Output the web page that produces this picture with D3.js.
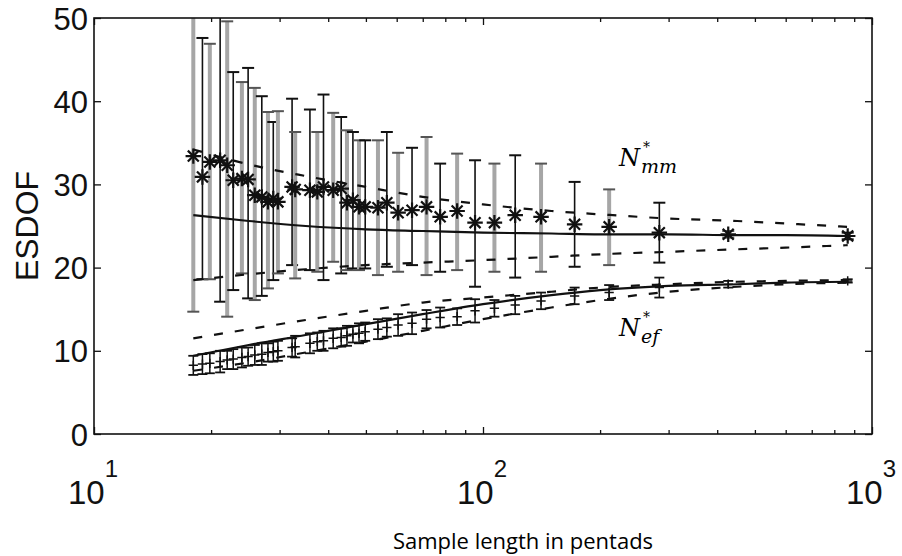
<!DOCTYPE html>
<html>
<head>
<meta charset="utf-8">
<script src="https://cdn.jsdelivr.net/npm/d3@7"></script>
<style>
  body { margin: 0; background: #fff; }
  .tick text { font-family: "Liberation Sans", Arial, sans-serif; }
</style>
</head>
<body>
<svg id="chart" width="902" height="556"></svg>
<script>
// sample lengths (pentads) of the sub-samples
const sampleLen = [18.0, 19.0, 19.85, 21.1, 22.0, 22.8, 24.0, 24.9, 25.9, 27.0,
  28.0, 28.9, 29.7, 32.3, 32.9, 35.9, 37.5, 38.9, 41.2, 43.2,
  44.7, 46.3, 48.0, 49.8, 53.7, 56.6, 60.5, 65.7, 71.6, 77.6,
  85.8, 95.4, 107, 121, 141, 172, 211, 284, 427, 866];

// N*mm : mean (asterisk) and error bar limits
const mmMean = [33.4, 30.9, 32.7, 32.9, 32.3, 30.5, 30.7, 30.6, 28.7, 28.5,
  27.9, 28.3, 27.9, 29.7, 29.4, 29.3, 29.1, 29.7, 29.3, 29.5,
  27.8, 28.1, 27.3, 27.3, 27.2, 27.8, 26.6, 26.9, 27.3, 26.1,
  26.8, 25.4, 25.4, 26.3, 26.1, 25.2, 24.9, 24.2, 24.0, 23.8];
const mmLo = [14.7, 18.6, 18.6, 15.9, 14.1, 17.3, 19.3, 16.3, 16.1, 16.6,
  17.5, 18.5, 19.3, 20.3, 18.7, 19.7, 19.5, 18.5, 20.7, 19.3,
  19.7, 19.9, 19.7, 19.9, 19.1, 20.1, 19.5, 20.3, 19.1, 19.5,
  19.7, 17.7, 19.5, 18.8, 19.5, 20.1, 20.3, 20.6, 23.6, 23.4];
const mmHi = [52, 47.6, 46.9, 52, 49.6, 43.5, 42.3, 44.0, 41.6, 40.6,
  38.7, 37.5, 38.8, 40.3, 36.3, 39.0, 36.3, 40.8, 38.6, 38.1,
  36.5, 36.3, 35.3, 35.3, 35.3, 36.3, 33.8, 34.4, 35.7, 32.5,
  33.7, 32.9, 32.5, 33.5, 32.5, 30.3, 29.4, 27.8, 24.4, 24.2];

// N*ef : mean and half-width of error bar
const efMean = [8.25, 8.4, 8.5, 8.7, 8.9, 9.0, 9.2, 9.3, 9.5, 9.6,
  9.8, 9.9, 10.0, 10.4, 10.5, 10.9, 11.1, 11.2, 11.5, 11.6,
  11.8, 12.0, 12.1, 12.3, 12.6, 12.8, 13.1, 13.3, 13.8, 14.0,
  14.1, 14.8, 15.1, 15.5, 16.0, 16.6, 17.0, 17.6, 18.0, 18.4];
const efErr = [1.15, 1.2, 1.2, 1.3, 1.1, 1.2, 1.2, 1.1, 1.2, 1.3,
  1.1, 1.2, 1.2, 1.1, 1.3, 1.2, 1.1, 1.2, 1.2, 1.1,
  1.2, 1.0, 1.2, 1.1, 1.2, 1.1, 1.3, 1.3, 1.1, 1.2,
  1.0, 1.4, 1.0, 1.1, 1.0, 1.0, 0.9, 1.2, 0.4, 0.2];

// theoretical curves (solid) and their bounds (dashed)
const theoryLen = [18, 25, 35, 50, 70, 100, 150, 200, 300, 450, 600, 866];
const mmTheory  = [26.3, 25.6, 25.0, 24.6, 24.4, 24.2, 24.1, 24.0, 24.0, 23.9, 23.9, 23.8];
const mmUpper   = [34.2, 32.4, 31.0, 29.7, 28.5, 27.6, 26.8, 26.4, 25.9, 25.6, 25.3, 24.9];
const mmLower   = [18.5, 19.2, 19.8, 20.3, 20.6, 20.9, 21.3, 21.6, 21.9, 22.2, 22.4, 22.7];
const efTheory  = [9.4, 10.7, 11.9, 13.2, 14.4, 15.6, 16.7, 17.3, 17.8, 18.0, 18.2, 18.3];
const efUpper   = [11.5, 12.6, 13.7, 14.8, 15.8, 16.4, 17.1, 17.6, 18.0, 18.3, 18.4, 18.5];
const efLower   = [7.6, 8.6, 9.8, 11.1, 12.4, 13.8, 15.2, 16.1, 17.1, 17.7, 18.0, 18.2];

const yTicks = [0, 10, 20, 30, 40, 50];
const xMajor = [10, 100, 1000];
const xMinor = [20, 30, 40, 50, 60, 70, 80, 90, 200, 300, 400, 500, 600, 700, 800, 900];

const W = 902, H = 556;
const M = { t: 18, r: 30, b: 122, l: 94 };
const w = W - M.l - M.r, h = H - M.t - M.b;

const svg = d3.select("#chart");
const g = svg.append("g").attr("transform", `translate(${M.l},${M.t})`);

const x = d3.scaleLog().domain([10, 1000]).range([0, w]);
const y = d3.scaleLinear().domain([0, 50]).range([h, 0]);

svg.append("defs").append("clipPath").attr("id", "plotclip")
  .append("rect").attr("width", w).attr("height", h);

const plot = g.append("g").attr("clip-path", "url(#plotclip)");

// ---- N*mm error bars (grey thick / black thin alternating)
const mm = sampleLen.map((n, i) => ({ n, m: mmMean[i], lo: mmLo[i], hi: mmHi[i], grey: i % 2 === 0 }));
const ef = sampleLen.map((n, i) => ({ n, m: efMean[i], e: efErr[i] }));

const bars = plot.append("g");
mm.forEach(d => {
  const cx = x(d.n);
  const col = d.grey ? "#a6a6a6" : "#111";
  const sw = d.grey ? 4 : 1.6;
  bars.append("line")
    .attr("x1", cx).attr("x2", cx)
    .attr("y1", y(d.lo)).attr("y2", y(d.hi))
    .attr("stroke", col).attr("stroke-width", sw);
  [d.lo, d.hi].forEach(v => {
    bars.append("line")
      .attr("x1", cx - 6).attr("x2", cx + 6)
      .attr("y1", y(v)).attr("y2", y(v))
      .attr("stroke", d.grey ? "#555" : "#111").attr("stroke-width", 2);
  });
});

// ---- N*ef error bars
ef.forEach(d => {
  const cx = x(d.n);
  bars.append("line")
    .attr("x1", cx).attr("x2", cx)
    .attr("y1", y(d.m - d.e)).attr("y2", y(d.m + d.e))
    .attr("stroke", "#111").attr("stroke-width", 1.5);
  [d.m - d.e, d.m + d.e].forEach(v => {
    bars.append("line")
      .attr("x1", cx - 5).attr("x2", cx + 5)
      .attr("y1", y(v)).attr("y2", y(v))
      .attr("stroke", "#111").attr("stroke-width", 1.8);
  });
});

// ---- theory lines
const line = vals => d3.line()
  .x((d, i) => x(theoryLen[i]))
  .y(d => y(d))
  .curve(d3.curveMonotoneX)(vals);

[[mmTheory, null], [mmUpper, "9,12"], [mmLower, "9,12"],
 [efTheory, null], [efUpper, "9,12"], [efLower, "9,12"]].forEach(([vals, dash]) => {
  plot.append("path")
    .attr("d", line(vals))
    .attr("fill", "none")
    .attr("stroke", "#111")
    .attr("stroke-width", 2.2)
    .attr("stroke-dasharray", dash);
});

// ---- markers
const star = plot.append("g");
mm.forEach(d => {
  const gg = star.append("g").attr("transform", `translate(${x(d.n)},${y(d.m)})`);
  gg.append("path").attr("d", d3.symbol(d3.symbolPlus, 80)()).attr("fill", "none")
    .attr("stroke", "#111").attr("stroke-width", 2.2);
  gg.append("path").attr("d", d3.symbol(d3.symbolTimes, 80)()).attr("fill", "none")
    .attr("stroke", "#111").attr("stroke-width", 2.2);
});
ef.forEach(d => {
  star.append("path")
    .attr("transform", `translate(${x(d.n)},${y(d.m)})`)
    .attr("d", d3.symbol(d3.symbolPlus, 30)())
    .attr("fill", "none").attr("stroke", "#111").attr("stroke-width", 1.5);
});

// ---- frame + ticks (inward, on all four sides)
g.append("rect").attr("width", w).attr("height", h)
  .attr("fill", "none").attr("stroke", "#111").attr("stroke-width", 1.6);

const tickAxis = (gen, tr) => {
  const a = g.append("g").attr("transform", tr).call(gen);
  a.select(".domain").remove();
  a.selectAll(".tick line").attr("stroke", "#111").attr("stroke-width", 1.3);
  return a;
};

tickAxis(d3.axisBottom(x).tickValues(xMajor).tickSize(-7).tickFormat(""), `translate(0,${h})`);
tickAxis(d3.axisBottom(x).tickValues(xMinor).tickSize(-4).tickFormat(""), `translate(0,${h})`);
tickAxis(d3.axisTop(x).tickValues(xMajor).tickSize(-7).tickFormat(""), "translate(0,0)");
tickAxis(d3.axisTop(x).tickValues(xMinor).tickSize(-4).tickFormat(""), "translate(0,0)");
tickAxis(d3.axisRight(y).tickValues(yTicks).tickSize(-7).tickFormat(""), `translate(${w},0)`);

const yAx = tickAxis(d3.axisLeft(y).tickValues(yTicks).tickSize(-7).tickPadding(6), "translate(0,0)");
yAx.selectAll(".tick text")
  .attr("fill", "#111")
  .style("font-size", "31px")
  .attr("dy", "0.36em");

// x labels 10^k
const xl = g.append("g").attr("transform", `translate(0,${h})`);
xMajor.forEach(v => {
  const t = xl.append("text")
    .attr("x", x(v) - 1)
    .attr("y", 70)
    .attr("text-anchor", "middle")
    .attr("fill", "#111")
    .style("font-family", "'Liberation Sans', Arial, sans-serif")
    .style("font-size", "33px");
  t.append("tspan").text("10");
  t.append("tspan").attr("dy", -27).style("font-size", "24px").text(Math.log10(v));
});

// axis titles
svg.append("text")
  .attr("transform", `translate(38,${M.t + h / 2}) rotate(-90)`)
  .attr("text-anchor", "middle")
  .attr("fill", "#111")
  .style("font-family", "'Liberation Sans', Arial, sans-serif")
  .style("font-size", "32px")
  .text("ESDOF");

svg.append("text")
  .attr("x", 523).attr("y", 549)
  .attr("text-anchor", "middle")
  .attr("fill", "#000")
  .style("font-family", "'Open Sans', Lato, sans-serif")
  .style("font-size", "22px")
  .text("Sample length in pentads");

// curve labels: N with a star above and the subscript below
const label = (px, py, sub) => {
  const f = "'DejaVu Serif', serif";
  svg.append("text")
    .attr("x", px).attr("y", py)
    .attr("fill", "#000")
    .style("font-family", f).style("font-style", "italic")
    .style("font-size", "24px")
    .text("N");
  svg.append("text")
    .attr("x", px + 24).attr("y", py - 14)
    .attr("fill", "#000")
    .style("font-family", f).style("font-style", "italic")
    .style("font-size", "14px")
    .text("*");
  svg.append("text")
    .attr("x", px + 22).attr("y", py + 7)
    .attr("fill", "#000")
    .style("font-family", f).style("font-style", "italic")
    .style("font-size", "19px")
    .text(sub);
};
label(619, 166, "mm");
label(619, 336, "ef");
</script>
</body>
</html>
